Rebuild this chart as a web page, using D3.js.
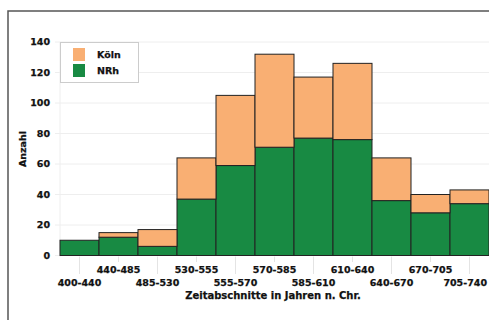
<!DOCTYPE html>
<html><head><meta charset="utf-8">
<script src="https://cdn.jsdelivr.net/npm/d3@7/dist/d3.min.js"></script>
<style>
html,body{margin:0;padding:0;background:#fff;overflow:hidden;}
svg{display:block;}
text{font-family:"DejaVu Sans",sans-serif;font-weight:bold;fill:#111;stroke:#111;stroke-width:0.25;}
</style></head>
<body><svg id="c" width="489" height="320"></svg>
<script>
const categories = ["400-440","440-485","485-530","530-555","555-570","570-585","585-610","610-640","640-670","670-705","705-740"];
const nrh  = [10, 12, 6, 37, 59, 71, 77, 76, 36, 28, 34];
const koeln = [0, 3, 11, 27, 46, 61, 40, 50, 28, 12, 9];
const yTicks = [0,20,40,60,80,100,120,140];
const seriesNames = ["Köln","NRh"];
const colors = {"Köln":"#F9AF73","NRh":"#188A43"};

const svg = d3.select("#c");
// outer frame (only left and top edges are visible in the window)
svg.append("path").attr("d","M8,330V11H500")
  .attr("fill","none").attr("stroke","#555").attr("stroke-width",1.5);

const x = d3.scaleBand().domain(categories).range([60,489]).padding(0);
const y = d3.scaleLinear().domain([0,140]).range([255.5,42]);

// gridlines
svg.append("g").selectAll("line").data(yTicks).join("line")
  .attr("x1",55).attr("x2",489).attr("y1",d=>y(d)).attr("y2",d=>y(d))
  .attr("stroke","#eee").attr("stroke-width",1);
svg.append("line").attr("x1",60).attr("x2",60).attr("y1",y(140)).attr("y2",y(0)+1)
  .attr("stroke","#eee");

// y axis labels
svg.append("g").selectAll("text").data(yTicks).join("text")
  .attr("x",50).attr("y",d=>y(d)).attr("dy","0.36em").attr("text-anchor","end")
  .attr("font-size",9.5).text(d=>d);

// x ticks
svg.append("g").selectAll("line").data(categories).join("line")
  .attr("x1",d=>x(d)+x.bandwidth()/2).attr("x2",d=>x(d)+x.bandwidth()/2)
  .attr("y1",y(0)+1).attr("y2",(d,i)=> i%2===0 ? 274 : 262)
  .attr("stroke","#e4e4e4");
svg.append("g").selectAll("text").data(categories).join("text")
  .attr("x",d=>x(d)+x.bandwidth()/2).attr("y",(d,i)=> i%2===0 ? 286 : 273)
  .attr("text-anchor","middle").attr("font-size",9.5).text(d=>d)
  .each(function(){
    const bb = this.getBBox();
    if (bb.x + bb.width > 487) {
      d3.select(this).attr("text-anchor","end").attr("x",487);
    }
  });

// bars
const data = categories.map((c,i)=>({cat:c, NRh:nrh[i], "Köln":koeln[i]}));
const stack = d3.stack().keys(["NRh","Köln"])(data);
svg.append("g").selectAll("g").data(stack).join("g")
  .attr("fill",s=>colors[s.key])
  .selectAll("rect").data(s=>s.filter(d=>d[1]-d[0]>0)).join("rect")
  .attr("x",d=>x(d.data.cat)).attr("width",x.bandwidth())
  .attr("y",d=>y(d[1])).attr("height",d=>y(d[0])-y(d[1]))
  .attr("stroke","#222").attr("stroke-width",1);

// axis titles
svg.append("text").attr("transform","translate(23,149) rotate(-90)")
  .attr("text-anchor","middle").attr("dy","0.35em").attr("font-size",9.5).text("Anzahl");
svg.append("text").attr("x",273).attr("y",298.5).attr("text-anchor","middle")
  .attr("font-size",10).text("Zeitabschnitte in Jahren n. Chr.");

// legend
const lg = svg.append("g");
lg.append("rect").attr("x",60.5).attr("y",42.5).attr("width",78).attr("height",40)
  .attr("fill","#fff").attr("stroke","#ccc");
seriesNames.forEach((n,i)=>{
  lg.append("rect").attr("x",73).attr("y",48+i*16).attr("width",12).attr("height",13)
    .attr("fill",colors[n]);
  lg.append("text").attr("x",97).attr("y",54.5+i*16).attr("dy","0.35em")
    .attr("font-size",9.5).text(n);
});
</script></body></html>
